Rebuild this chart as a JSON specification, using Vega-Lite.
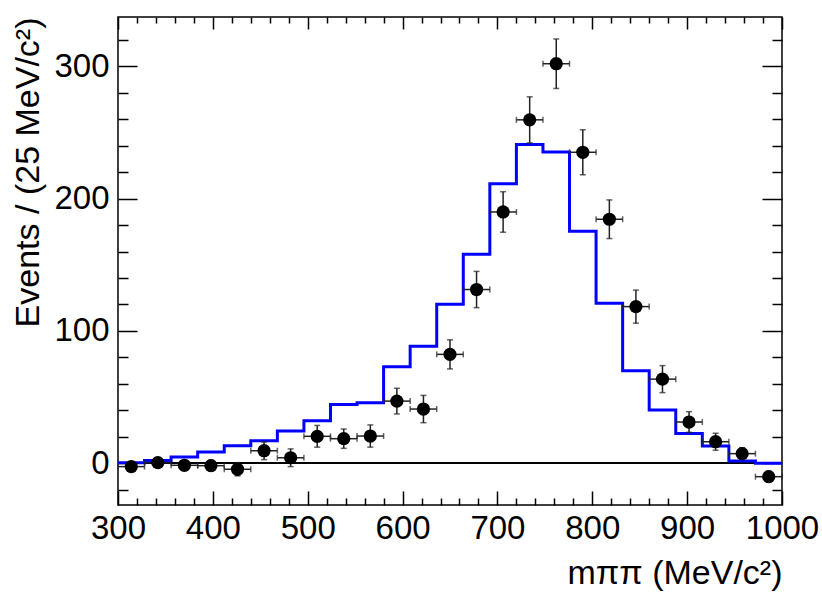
{
  "$schema": "https://vega.github.io/schema/vega-lite/v6.json",
  "width": 664,
  "height": 488,
  "autosize": "none",
  "padding": {"left": 118, "top": 17, "right": 40, "bottom": 88},
  "background": "white",
  "data": {
    "values": [
      {"lo": 300, "hi": 328, "m": 314, "n": -2.5, "err": 3, "model": 0.5},
      {"lo": 328, "hi": 356, "m": 342, "n": 0.5, "err": 3, "model": 2.2},
      {"lo": 356, "hi": 384, "m": 370, "n": -1.5, "err": 3, "model": 4.7},
      {"lo": 384, "hi": 412, "m": 398, "n": -1.8, "err": 4, "model": 8.5},
      {"lo": 412, "hi": 440, "m": 426, "n": -4.5, "err": 5, "model": 13.3},
      {"lo": 440, "hi": 468, "m": 454, "n": 9.5, "err": 6.7, "model": 17.1},
      {"lo": 468, "hi": 496, "m": 482, "n": 4.2, "err": 6.7, "model": 24.4},
      {"lo": 496, "hi": 524, "m": 510, "n": 20.4, "err": 8.2, "model": 32.2},
      {"lo": 524, "hi": 552, "m": 538, "n": 18.6, "err": 7.3, "model": 44.5},
      {"lo": 552, "hi": 580, "m": 566, "n": 20.6, "err": 8.4, "model": 45.8},
      {"lo": 580, "hi": 608, "m": 594, "n": 47, "err": 9.7, "model": 72.9},
      {"lo": 608, "hi": 636, "m": 622, "n": 41, "err": 10.3, "model": 88.5},
      {"lo": 636, "hi": 664, "m": 650, "n": 82.3, "err": 11, "model": 120.2},
      {"lo": 664, "hi": 692, "m": 678, "n": 131.3, "err": 13.7, "model": 158},
      {"lo": 692, "hi": 720, "m": 706, "n": 189.9, "err": 15.3, "model": 211.3},
      {"lo": 720, "hi": 748, "m": 734, "n": 259.5, "err": 17.4, "model": 240.8},
      {"lo": 748, "hi": 776, "m": 762, "n": 301.9, "err": 18.7, "model": 235.2},
      {"lo": 776, "hi": 804, "m": 790, "n": 235, "err": 17, "model": 175.3},
      {"lo": 804, "hi": 832, "m": 818, "n": 184.4, "err": 14.6, "model": 121},
      {"lo": 832, "hi": 860, "m": 846, "n": 118.4, "err": 12.5, "model": 69.9},
      {"lo": 860, "hi": 888, "m": 874, "n": 63.6, "err": 10.2, "model": 40.2},
      {"lo": 888, "hi": 916, "m": 902, "n": 31.2, "err": 7.8, "model": 22.6},
      {"lo": 916, "hi": 944, "m": 930, "n": 16.3, "err": 6.4, "model": 13.1},
      {"lo": 944, "hi": 972, "m": 958, "n": 7.3, "err": 4.5, "model": 1.7},
      {"lo": 972, "hi": 1000, "m": 986, "n": -10.1, "err": 4, "model": 0}
    ]
  },
  "layer": [
    {
      "mark": {"type": "rule", "color": "black", "strokeWidth": 1.5},
      "encoding": {
        "y": {"datum": 0, "type": "quantitative", "axis": null}
      }
    },
    {
      "transform": [{"fold": ["lo", "hi"], "as": ["edge", "xv"]}],
      "mark": {"type": "line", "color": "#0000ff", "strokeWidth": 3},
      "encoding": {
        "x": {
          "field": "xv",
          "type": "quantitative",
          "scale": {"domain": [300, 1000], "nice": false, "zero": false},
          "axis": {
            "orient": "top",
            "values": [300, 320, 340, 360, 380, 400, 420, 440, 460, 480, 500, 520, 540, 560, 580, 600, 620, 640, 660, 680, 700, 720, 740, 760, 780, 800, 820, 840, 860, 880, 900, 920, 940, 960, 980, 1000],
            "labels": false,
            "domain": false,
            "grid": false,
            "title": null,
            "tickColor": "black",
            "tickWidth": 1.5,
            "tickSize": {"condition": {"test": "datum.value % 100 === 0", "value": -12}, "value": -6}
          }
        },
        "y": {
          "field": "model",
          "type": "quantitative",
          "scale": {"domain": [-31.5, 337.2], "nice": false, "zero": false},
          "axis": {
            "orient": "right",
            "values": [-20, 0, 20, 40, 60, 80, 100, 120, 140, 160, 180, 200, 220, 240, 260, 280, 300, 320],
            "labels": false,
            "domain": false,
            "grid": false,
            "title": null,
            "tickColor": "black",
            "tickWidth": 1.5,
            "tickSize": {"condition": {"test": "datum.value % 100 === 0", "value": -20}, "value": -10}
          }
        },
        "order": [
          {"field": "m", "type": "quantitative"},
          {"field": "edge", "sort": "descending"}
        ]
      }
    },
    {
      "mark": {"type": "errorbar", "color": "#222222", "thickness": 1.5, "ticks": {"size": 6}},
      "encoding": {
        "x": {"field": "lo", "type": "quantitative", "axis": null},
        "x2": {"field": "hi"},
        "y": {"field": "n", "type": "quantitative", "axis": null}
      }
    },
    {
      "mark": {"type": "errorbar", "color": "#222222", "thickness": 1.5, "ticks": {"size": 6}},
      "encoding": {
        "x": {"field": "m", "type": "quantitative", "axis": null},
        "y": {"field": "n", "type": "quantitative", "axis": null},
        "yError": {"field": "err"}
      }
    },
    {
      "mark": {"type": "point", "shape": "circle", "filled": true, "color": "black", "opacity": 1, "size": 175},
      "encoding": {
        "x": {
          "field": "m",
          "type": "quantitative",
          "axis": {
            "orient": "bottom",
            "values": [300, 320, 340, 360, 380, 400, 420, 440, 460, 480, 500, 520, 540, 560, 580, 600, 620, 640, 660, 680, 700, 720, 740, 760, 780, 800, 820, 840, 860, 880, 900, 920, 940, 960, 980, 1000],
            "format": "d",
            "labelExpr": "datum.value % 100 === 0 ? datum.label : ''",
            "labelOverlap": false,
            "labelFlush": false,
            "labelPadding": 21,
            "domain": false,
            "grid": false,
            "tickColor": "black",
            "tickWidth": 1.5,
            "tickSize": {"condition": {"test": "datum.value % 100 === 0", "value": -14}, "value": -7},
            "title": "mππ (MeV/c²)",
            "titleAnchor": "end",
            "titlePadding": 4
          }
        },
        "y": {
          "field": "n",
          "type": "quantitative",
          "axis": {
            "orient": "left",
            "values": [-20, 0, 20, 40, 60, 80, 100, 120, 140, 160, 180, 200, 220, 240, 260, 280, 300, 320],
            "format": "d",
            "labelExpr": "datum.value % 100 === 0 ? datum.label : ''",
            "labelOverlap": false,
            "labelFlush": false,
            "labelPadding": 28,
            "domain": false,
            "grid": false,
            "tickColor": "black",
            "tickWidth": 1.5,
            "tickSize": {"condition": {"test": "datum.value % 100 === 0", "value": -19}, "value": -10},
            "title": "Events / (25 MeV/c²)",
            "titleAnchor": "end",
            "titlePadding": 8
          }
        }
      }
    }
  ],
  "resolve": {"axis": {"x": "independent", "y": "independent"}},
  "config": {
    "font": "Liberation Sans",
    "view": {"stroke": "black", "strokeWidth": 1.5},
    "axis": {
      "labelFont": "Liberation Sans",
      "labelFontSize": 33,
      "labelColor": "black",
      "titleFont": "Liberation Sans",
      "titleFontSize": 34,
      "titleFontWeight": "normal",
      "titleColor": "black"
    }
  }
}
